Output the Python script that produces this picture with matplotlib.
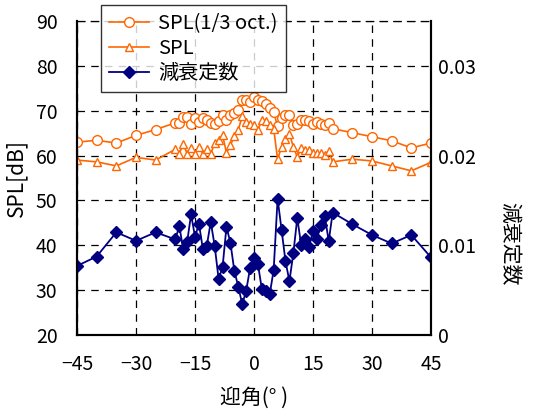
import matplotlib
matplotlib.use("Agg")
import matplotlib.pyplot as plt
from matplotlib.ticker import FixedLocator

plt.rcParams['font.family'] = ['Noto Sans CJK JP', 'DejaVu Sans']

angles = [-45, -40, -35, -30, -25,
          -20, -19, -18, -17, -16, -15, -14, -13, -12, -11, -10,
          -9, -8, -7, -6, -5, -4, -3, -2, -1, 0,
          1, 2, 3, 4, 5, 6, 7, 8, 9, 10,
          11, 12, 13, 14, 15, 16, 17, 18, 19, 20,
          25, 30, 35, 40, 45]

spl_oct = [63.0, 63.4, 62.8, 64.5, 65.8,
           67.3, 67.3, 68.6, 68.6, 67.1, 68.3, 67.5, 68.3, 67.9, 67.3, 67.0,
           67.7, 69.0, 67.9, 69.0, 69.5, 70.1, 72.3, 72.3, 72.0, 73.1,
           72.5, 72.2, 71.4, 70.5, 69.7, 66.5, 68.3, 69.1, 69.1, 66.8,
           67.1, 67.9, 67.9, 67.7, 67.1, 67.5, 67.1, 66.9, 67.3, 66.0,
           65.1, 64.2, 63.3, 61.7, 62.8]

spl = [59.0, 58.6, 57.7, 59.6, 59.0,
       61.4, 60.4, 62.6, 60.4, 61.8, 60.4, 62.0, 60.4, 61.4, 60.4, 62.8,
       63.4, 64.6, 60.6, 62.3, 64.3, 65.7, 68.8, 67.5, 67.1, 66.8,
       65.7, 67.9, 67.7, 66.8, 66.0, 59.2, 61.9, 63.8, 64.9, 61.9,
       59.7, 61.6, 61.2, 61.2, 60.5, 60.6, 60.6, 60.1, 61.0, 58.6,
       59.2, 58.8, 57.7, 56.6, 58.5]

damping = [0.0077, 0.00875, 0.01145, 0.0105, 0.01145,
           0.01065, 0.01215, 0.0096, 0.01035, 0.01345, 0.01095, 0.0124, 0.0096, 0.00995, 0.0126, 0.00995,
           0.00625, 0.00755, 0.01205, 0.0103, 0.00715, 0.0054, 0.00345, 0.0049, 0.00745, 0.0086,
           0.0079, 0.0051, 0.00485, 0.00455, 0.00725, 0.0152, 0.01175, 0.00825, 0.006, 0.0091,
           0.01305, 0.01, 0.01075, 0.00985, 0.0116, 0.01075, 0.01225, 0.01325, 0.01045, 0.01365,
           0.01235, 0.01115, 0.0102, 0.01115, 0.00865]

x_ticks = [-45, -30, -15, 0, 15, 30, 45]
x_labels = ['−45', '−30', '−15', '0', '15', '30', '45']
y_ticks = [20, 30, 40, 50, 60, 70, 80, 90]
y2_ticks = [0, 0.01, 0.02, 0.03]
y2_labels = ['0', '0.01', '0.02', '0.03']

labels = ['SPL(1/3 oct.)', 'SPL', '減衰定数']

orange = '#FF6600'
navy = '#000080'

fig = plt.figure(figsize=(5.37, 4.12), dpi=100)
ax = fig.add_axes([0.1434, 0.1869, 0.6592, 0.7621])
ax2 = ax.twinx()

l1, = ax.plot(angles, spl_oct, color=orange, lw=1.2, marker='o', ms=7,
              mfc='white', mec=orange, mew=1.0, label=labels[0])
l2, = ax.plot(angles, spl, color=orange, lw=1.2, marker='^', ms=5.5,
              mfc='white', mec=orange, mew=1.0, label=labels[1])
l3, = ax2.plot(angles, damping, color=navy, lw=1.3, marker='D', ms=6.5,
               mfc=navy, mec=navy, label=labels[2])

ax.set_xlim(-45, 45)
ax.set_ylim(20, 90)
ax2.set_ylim(0, 0.035)
ax.xaxis.set_major_locator(FixedLocator(x_ticks))
ax.set_xticklabels(x_labels)
ax.yaxis.set_major_locator(FixedLocator(y_ticks))
ax2.yaxis.set_major_locator(FixedLocator(y2_ticks))
ax2.set_yticklabels(y2_labels)

ax.grid(True, color='black', linestyle=(0, (6, 5)), linewidth=0.9)
ax.set_axisbelow(True)
ax.tick_params(axis='x', length=0, labelsize=14, pad=14)
ax.tick_params(axis='y', length=0, labelsize=14, pad=14)
ax2.tick_params(axis='y', length=0, labelsize=14, pad=5)

for sp in ['left', 'bottom', 'right']:
    ax.spines[sp].set_linewidth(1.5)
    ax2.spines[sp].set_linewidth(1.5)
ax.spines['top'].set_linestyle((0, (6, 5)))
ax.spines['top'].set_linewidth(0.9)
ax2.spines['top'].set_visible(False)

ax.set_xlabel('迎角(° )', fontsize=15, labelpad=8)
ax.set_ylabel('SPL[dB]', fontsize=15, labelpad=6)
ax2.set_ylabel('減衰定数', fontsize=15, rotation=270, va='center')
ax2.yaxis.set_label_coords(1.22, 0.29)

leg = fig.legend(handles=[l1, l2, l3], labels=labels, loc='upper left',
                 bbox_to_anchor=(0.188, 0.988), frameon=True, fancybox=False,
                 edgecolor='black', fontsize=14.5, handlelength=2.0,
                 borderpad=0.4, labelspacing=0.2, handletextpad=0.45,
                 borderaxespad=0)
leg.get_frame().set_linewidth(1.0)

fig.savefig('out.png', dpi=100)
